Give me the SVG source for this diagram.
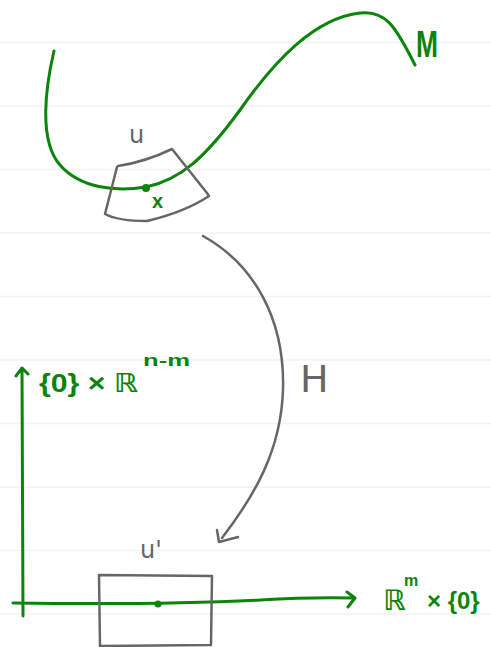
<svg xmlns="http://www.w3.org/2000/svg" width="491" height="647" viewBox="0 0 491 647">
<style>
.rule{stroke:#f3f3f3;stroke-width:1.5;fill:none}
.g{stroke:#0a840a;stroke-width:3;fill:none;stroke-linecap:round;stroke-linejoin:round}
.k{stroke:#666666;stroke-width:2.5;fill:none;stroke-linecap:round;stroke-linejoin:round}
.gt{fill:#0a840a;font-family:"Liberation Sans","DejaVu Sans",sans-serif;font-weight:bold}
.kt{fill:#666666;font-family:"DejaVu Sans","Noto Sans",sans-serif}
</style>
<rect width="491" height="647" fill="#ffffff"/>
<g id="background">
<path class="rule" d="M0,42.5H491M0,106H491M0,169.5H491M0,233H491M0,296.5H491M0,360H491M0,423.5H491M0,487H491M0,550.5H491M0,614H491"/>
</g>
<g id="manifold-M">
<path class="g" d="M54,51 C46,85 38,140 60,165 C80,188 115,192 146,187 C180,180 205,158 240,110 C275,60 315,18 360,13 C385,10 395,25 415,65"/>
<circle cx="146" cy="188" r="4" fill="#0a840a"/>
<text class="gt" x="416" y="57" font-size="36" textLength="22" lengthAdjust="spacingAndGlyphs">M</text>
<text class="gt" x="152" y="208" font-size="20">x</text>
</g>
<g id="patch-U">
<path class="k" d="M118,166 Q145,162 172,149 L207,193 L209,196 Q185,212 147,221 Q118,221 105,214 L117,167"/>
<text class="kt" x="129" y="143" font-size="24">u</text>
</g>
<g id="axes">
<path class="g" d="M23,616 L22,369 M16,376 L22,368 L28,374"/>
<path class="g" d="M13,603 Q160,605 260,600 Q310,597 353,598 M347,592 L355,598 L348,607"/>
<circle cx="158" cy="604" r="3.5" fill="#0a840a"/>
<text class="gt" x="39" y="392" font-size="26" textLength="99" lengthAdjust="spacingAndGlyphs">{0} × ℝ</text>
<text class="gt" x="143" y="366" font-size="16" textLength="47" lengthAdjust="spacingAndGlyphs">n-m</text>
<text class="gt" x="383" y="610" font-size="28">ℝ</text>
<text class="gt" x="404" y="586" font-size="16">m</text>
<text class="gt" x="427" y="609" font-size="24">× {0}</text>
</g>
<g id="box-U-prime">
<path class="k" d="M99,575 L212,576 L211,645 L100,646 Z"/>
<text class="kt" x="140" y="558" font-size="24">u'</text>
</g>
<g id="connectors">
<path class="k" d="M203,236 C255,265 285,320 283,390 C281,450 255,495 222,538"/>
<path class="k" d="M217,530 L219,542 L238,537"/>
<text class="kt" x="300" y="392" font-size="38">H</text>
</g>
</svg>
